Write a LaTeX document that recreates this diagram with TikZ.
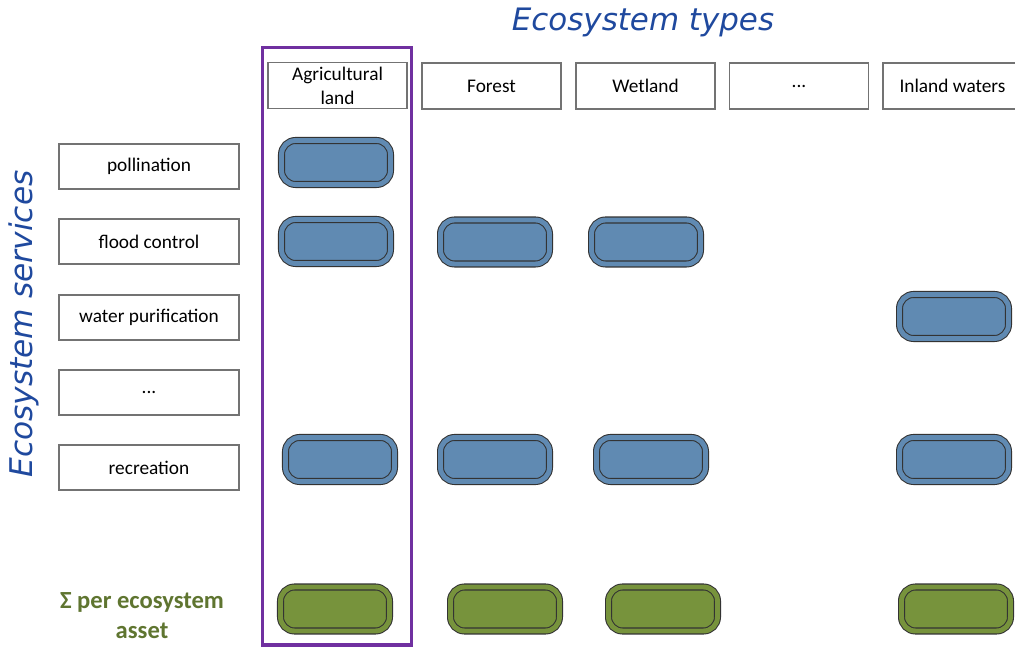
\documentclass[tikz,border=0pt]{standalone}
\usepackage{fontspec}
\setmainfont{Carlito}
\newfontfamily\titlefont{DejaVu Sans}
\definecolor{titleblue}{RGB}{31,73,158}
\definecolor{pillblue}{RGB}{96,138,178}
\definecolor{pillgreen}{RGB}{119,147,60}
\definecolor{sumgreen}{RGB}{95,117,48}
\definecolor{framepurple}{RGB}{112,48,160}
\begin{document}
\begin{tikzpicture}[x=0.02cm,y=-0.02cm]
\tikzstyle{service}=[draw=black!55,line width=0.6pt,minimum width=3.6cm,minimum height=0.9cm,inner sep=0pt,font=\fontsize{11}{13.6}\selectfont]
\tikzstyle{ecotype}=[service,minimum width=2.78cm,minimum height=0.92cm,align=center]
\tikzstyle{pill}=[draw=black!80,line width=0.6pt,rounded corners=0.28cm,double distance=2.8pt,minimum width=2.18cm,minimum height=0.88cm,inner sep=0pt]
\tikzstyle{bluepill}=[pill,fill=pillblue,double=pillblue]
\tikzstyle{greenpill}=[pill,fill=pillgreen,double=pillgreen]
\clip (0,0) rectangle (1015,648);

\node[text=titleblue,font=\titlefont\itshape\fontsize{17.6}{20}\selectfont] at (643,22) (types) {Ecosystem types};
\node[text=titleblue,font=\titlefont\itshape\fontsize{17.8}{20}\selectfont,rotate=90] at (24,324) (services) {Ecosystem services};

\node[ecotype] at (337.5,85.5) (agri) {Agricultural\\land};
\node[ecotype] at (491.5,86) (forest) {Forest};
\node[ecotype] at (645.5,86) (wetland) {Wetland};
\node[ecotype] at (799,86) (moretypes) {...};
\node[ecotype] at (952.5,86) (inland) {Inland waters};

\node[service] at (149,166.5) (pollination) {pollination};
\node[service] at (149,241.5) (flood) {flood control};
\node[service] at (149,317.5) (water) {water purification};
\node[service] at (149,392.5) (moreservices) {...};
\node[service] at (149,467.5) (recreation) {recreation};

\node[bluepill] at (336,162.5) (agri-poll) {};
\node[bluepill] at (336,241.5) (agri-flood) {};
\node[bluepill] at (495,242) (forest-flood) {};
\node[bluepill] at (646,242) (wetland-flood) {};
\node[bluepill] at (954,316.5) (inland-water) {};
\node[bluepill] at (340,459.5) (agri-rec) {};
\node[bluepill] at (495,459.5) (forest-rec) {};
\node[bluepill] at (651,459.5) (wetland-rec) {};
\node[bluepill] at (954,459.5) (inland-rec) {};

\node[text=sumgreen,align=center,font=\bfseries\fontsize{14}{17}\selectfont] at (142,616) (sum) {Σ per ecosystem\\asset};
\node[greenpill] at (335,609) (agri-sum) {};
\node[greenpill] at (505,609) (forest-sum) {};
\node[greenpill] at (663,609) (wetland-sum) {};
\node[greenpill] at (956,609) (inland-sum) {};

\draw[framepurple,line width=2pt] (262.5,47.5) rectangle (411.5,645);
\end{tikzpicture}
\end{document}
